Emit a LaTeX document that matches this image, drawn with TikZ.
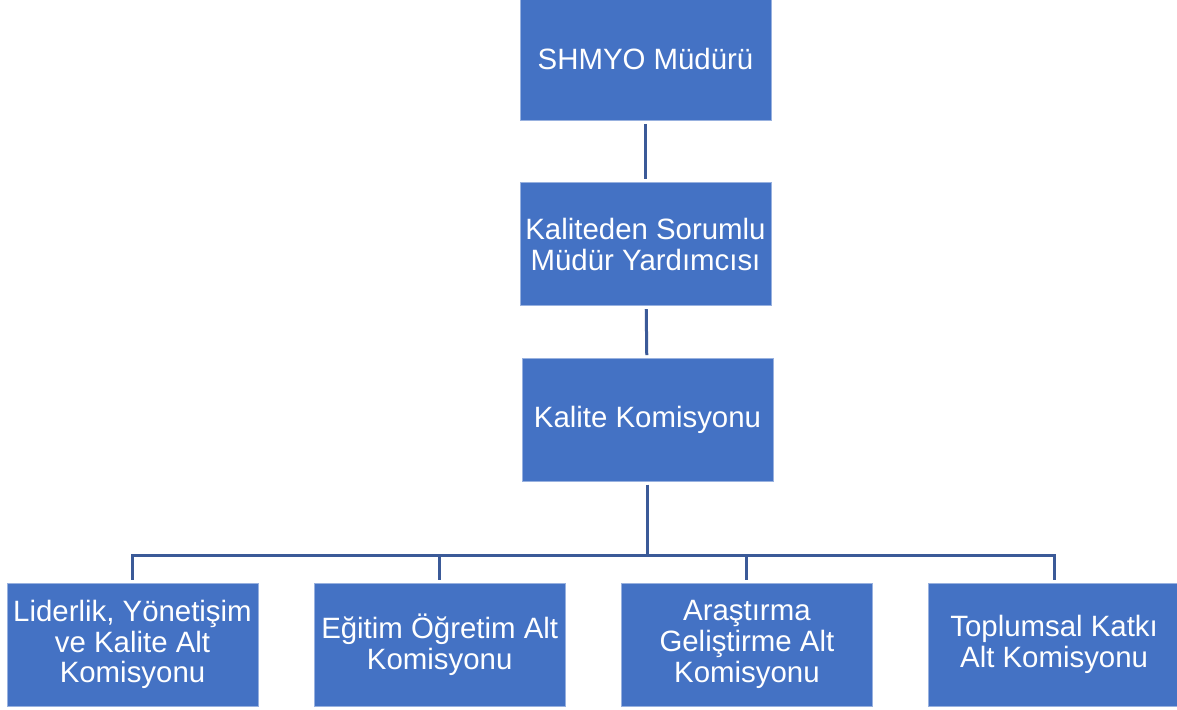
\documentclass[tikz,border=0pt]{standalone}
\usepackage{fontspec}
\setmainfont{Liberation Sans}
\usetikzlibrary{positioning}
\definecolor{boxBlue}{RGB}{68, 114, 196}
\definecolor{lineBlue}{RGB}{59, 90, 152}
\tikzset{
    % Base Block Style
    unit/.style={
        rectangle,
        minimum width=125.5pt,
        minimum height=61.5pt,
        inner sep=1pt,
        align=center,
        font=\fontsize{14.7}{15.4}\selectfont,
        text=white,
        fill=boxBlue,
        draw=boxBlue!55!white,
        line width=0.4pt
    },
    % Connector Style
    link/.style={draw=lineBlue, line width=1.5pt, shorten <=1.5pt, shorten >=1.5pt}
}
\begin{document}
\begin{tikzpicture}[x=0.5pt, y=-0.5pt, node distance=30.75pt and 27.7pt]
    \useasboundingbox (0,0) rectangle (1177,710);

    % --- Chain of command ---
    \node (mudur) [unit] at (645.5,59) {SHMYO Müdürü};
    \node (yardimci) [unit, below=of mudur] {Kaliteden Sorumlu\\Müdür Yardımcısı};
    \node (komisyon) [unit, below=26pt of yardimci, xshift=1pt] {Kalite Komisyonu};

    % --- Sub-commissions ---
    \node (alt1) [unit] at (132.5,644.5) {Liderlik, Yönetişim\\ve Kalite Alt\\Komisyonu};
    \node (alt2) [unit, right=of alt1] {Eğitim Öğretim Alt\\Komisyonu};
    \node (alt3) [unit, right=of alt2] {Araştırma\\Geliştirme Alt\\Komisyonu};
    \node (alt4) [unit, right=of alt3] {Toplumsal Katkı\\Alt Komisyonu};

    % --- Connectors ---
    \draw [link] (mudur) -- (yardimci);
    \draw [link] (yardimci) -- (komisyon);
    \foreach \sub in {alt1, alt2, alt3, alt4}
        \draw [link] (komisyon.south) -- ++(0,73) -| (\sub.north);

\end{tikzpicture}
\end{document}
